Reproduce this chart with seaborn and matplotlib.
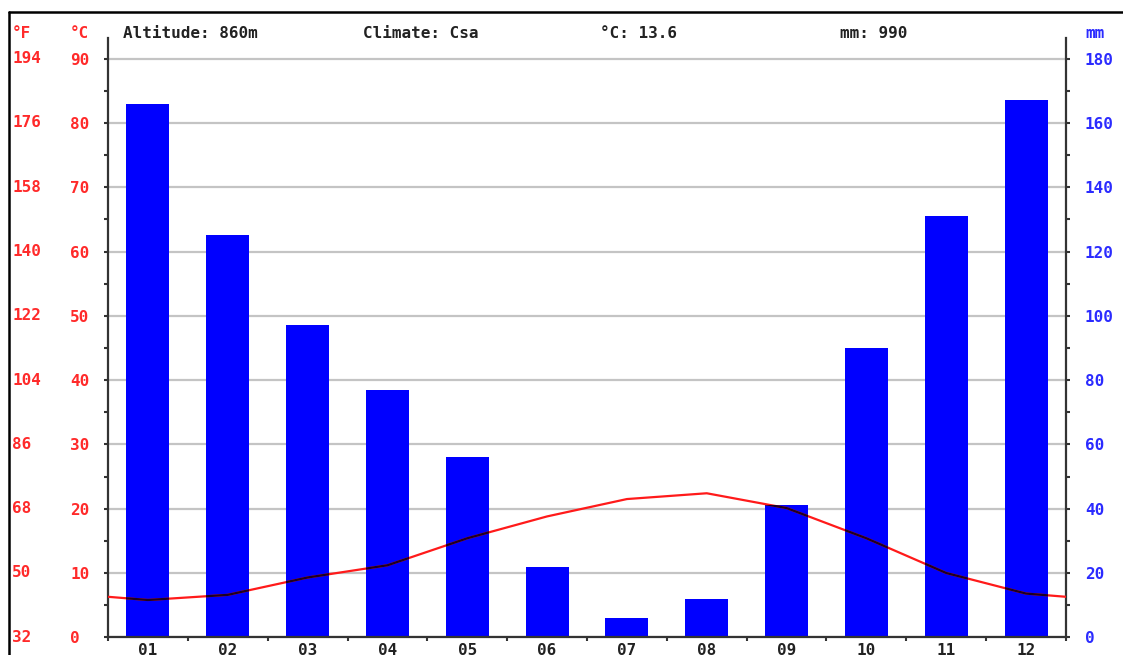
import numpy as np
import matplotlib
matplotlib.use("Agg")
import matplotlib.pyplot as plt
from matplotlib.transforms import blended_transform_factory
from matplotlib.lines import Line2D
import seaborn as sns

# Monthly climate normals
months = ["01", "02", "03", "04", "05", "06", "07", "08", "09", "10", "11", "12"]
precip_mm = [166, 125, 97, 77, 56, 22, 6, 12, 41, 90, 131, 167]
temp_c = [5.8, 6.6, 9.3, 11.2, 15.4, 18.8, 21.5, 22.4, 20.1, 15.4, 10.0, 6.8]

# Header facts
altitude_text = "Altitude: 860m"
climate_text = "Climate: Csa"
mean_temp_text = "°C: 13.6"
total_precip_text = "mm: 990"

# Axis ticks
celsius_ticks = [0, 10, 20, 30, 40, 50, 60, 70, 80, 90]
mm_ticks = [0, 20, 40, 60, 80, 100, 120, 140, 160, 180]

RED = "#ff2a2a"
BLUE = "#2b2bff"
BAR_BLUE = "#0000ff"
AXIS = "#333333"
FS = 11.5

sns.set_style("white")
plt.rcParams["font.family"] = ["DejaVu Sans Mono", "DejaVu Sans"]
plt.rcParams["font.weight"] = "bold"

W, H = 1123, 655
fig = plt.figure(figsize=(W / 100, H / 100), dpi=100)
fig.patch.set_facecolor("white")

left_px, right_px, top_px, bottom_px = 108, 1066, 38, 637.3
ax_mm = fig.add_axes([left_px / W, 1 - bottom_px / H,
                      (right_px - left_px) / W, (bottom_px - top_px) / H])
# Temperature axis sits on top of the precipitation axis
ax_t = ax_mm.twinx()
ax_t.set_zorder(ax_mm.get_zorder() + 1)
ax_t.patch.set_visible(False)

# Precipitation bars (right axis, mm)
sns.barplot(x=months, y=precip_mm, color=BAR_BLUE, saturation=1, width=0.54,
            linewidth=0, ax=ax_mm)
y_top_c = 90 + (58.6 - top_px) / ((bottom_px - 58.6) / 90)
ax_mm.set_ylim(0, 2 * y_top_c)
ax_mm.set_xlim(-0.5, 11.5)
ax_mm.set_xlabel("")
ax_mm.set_ylabel("")
ax_mm.set_yticks(mm_ticks)
ax_mm.set_yticks(np.arange(10, 181, 20), minor=True)
ax_mm.yaxis.tick_right()
ax_mm.grid(axis="y", which="major", color="#c4c4c4", linewidth=1.6)
ax_mm.set_axisbelow(True)
ax_mm.tick_params(axis="y", which="both", right=True, left=False,
                  labelright=True, labelleft=False, direction="out",
                  length=3.2, width=1.5, color=AXIS, labelcolor=BLUE,
                  labelsize=FS, pad=10.4)
ax_mm.tick_params(axis="x", which="major", length=0, pad=4, labelsize=FS,
                  labelcolor="#222222")
ax_mm.set_xticks(np.arange(-0.5, 12, 1), minor=True)
ax_mm.tick_params(axis="x", which="minor", bottom=True, direction="out",
                  length=3, width=1.5, color=AXIS)
for side in ("left", "right", "bottom"):
    ax_mm.spines[side].set_visible(True)
    ax_mm.spines[side].set_color(AXIS)
    ax_mm.spines[side].set_linewidth(1.6)
ax_mm.spines["top"].set_visible(False)

# Temperature line (left axis, °C), wrapped around the year at both ends
x_wrap = [-1] + list(range(len(months))) + [len(months)]
t_wrap = [temp_c[-1]] + temp_c + [temp_c[0]]
sns.lineplot(x=x_wrap, y=t_wrap, sort=False, color="#ff1a1a", linewidth=1.6,
             ax=ax_t)
# Where the line passes over a bar it reads as a dark stroke
for bar in ax_mm.patches:
    over, = ax_t.plot(x_wrap, t_wrap, color="#1c0024", linewidth=1.6, zorder=3)
    over.set_clip_path(bar)
ax_t.set_xlim(-0.5, 11.5)
ax_t.set_ylim(0, y_top_c)
ax_t.set_yticks(celsius_ticks)
ax_t.set_yticks(np.arange(5, 90, 10), minor=True)
ax_t.yaxis.tick_left()
ax_t.tick_params(axis="y", which="both", left=True, right=False, labelleft=True,
                 labelright=False, direction="out", length=3.2, width=1.5,
                 color=AXIS, labelcolor=RED, labelsize=FS,
                 pad=(38 - 3.2 / 0.72) * 0.72)
for lab in ax_t.get_yticklabels():
    lab.set_horizontalalignment("left")
for s in ax_t.spines.values():
    s.set_visible(False)
ax_t.set_ylabel("")

# Fahrenheit column, converted from the Celsius ticks
tr = blended_transform_factory(fig.transFigure, ax_t.transData)
for c in celsius_ticks:
    f = round(c * 9 / 5 + 32)
    ax_t.text(12 / W, c, f"{f}", transform=tr, ha="left", va="center",
              color=RED, fontsize=FS, fontweight="bold", clip_on=False)

# Header row
hy = 1 - 33 / H
fig.text(12 / W, hy, "°F", color=RED, fontsize=FS, ha="left", va="center")
fig.text(70 / W, hy, "°C", color=RED, fontsize=FS, ha="left", va="center")
fig.text(1085 / W, hy, "mm", color=BLUE, fontsize=FS, ha="left", va="center")
for x_px, txt in [(123, altitude_text), (363, climate_text),
                  (600, mean_temp_text), (840, total_precip_text)]:
    fig.text(x_px / W, hy, txt, color="#222222", fontsize=FS, ha="left",
             va="center")

# Frame around the chart
fig.add_artist(Line2D([9 / W, 9 / W], [0, 1 - 12 / H], color="black",
                      linewidth=1.8, transform=fig.transFigure))
fig.add_artist(Line2D([9 / W, 1], [1 - 12 / H, 1 - 12 / H], color="black",
                      linewidth=1.8, transform=fig.transFigure))

fig.savefig("out.png", dpi=100, facecolor="white")
